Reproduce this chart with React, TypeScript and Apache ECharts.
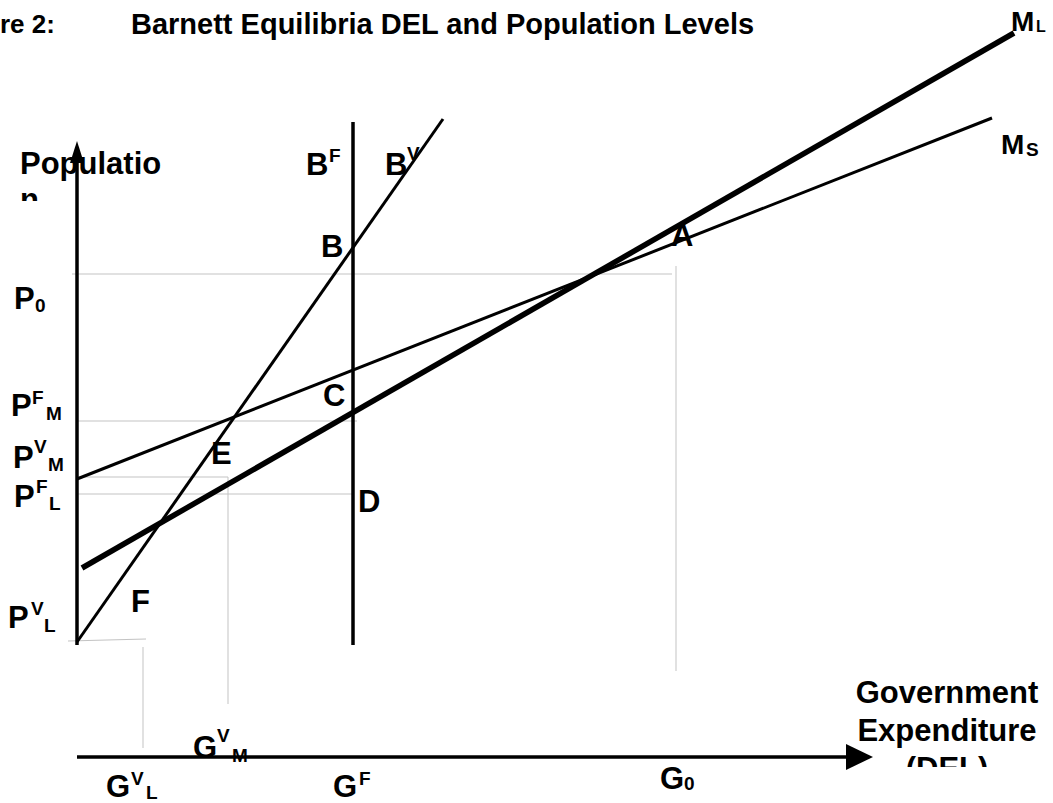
import React, { useEffect, useRef } from "react";
import * as echarts from "echarts";

// Diagram geometry in diagram units (G across, P down the page scale)
const popAxisLine = [[77, 645], [77, 160]];
const govAxisLine = [[77, 757], [848, 757]];
const bfLine = [[353, 122], [353, 645]];
const bvLine = [[77, 642], [443, 119]];
const msLine = [[77, 479], [992, 118]];
const mlLine = [[82, 568], [1014, 33]];

// Light reference (guide) lines
const p0Guide = [[72, 274], [672, 274]];
const g0Guide = [[676, 266], [676, 671]];
const pfmGuide = [[77, 421], [357, 421]];
const pvmGuide = [[77, 477], [228, 477], [228, 704]];
const pflGuide = [[77, 494], [353, 494]];
const pvlGuide = [[68, 641], [146, 639]];
const gvlGuide = [[143, 647], [143, 748]];

const FONT = '"Liberation Sans", Arial, Helvetica, sans-serif';
const BIG = `bold 31px ${FONT}`;
const MID = `bold 28px ${FONT}`;
const SMALL = `bold 19px ${FONT}`;
const TITLE = `bold 29px ${FONT}`;

type Lbl = { t: string; x: number; y: number; f: string; align?: string };

const labels: Lbl[] = [
  { t: "re 2:", x: 0, y: 24, f: `bold 26px ${FONT}` },
  { t: "Barnett Equilibria DEL and Population Levels", x: 131, y: 24, f: TITLE },
  { t: "Populatio", x: 20, y: 163, f: BIG },
  { t: "n", x: 20, y: 199, f: BIG },
  { t: "B", x: 306, y: 164, f: BIG },
  { t: "F", x: 329, y: 155, f: SMALL },
  { t: "B", x: 385, y: 164, f: BIG },
  { t: "V", x: 407, y: 153, f: SMALL },
  { t: "B", x: 321, y: 246, f: BIG },
  { t: "A", x: 671, y: 235, f: BIG },
  { t: "C", x: 323, y: 395, f: BIG },
  { t: "E", x: 211, y: 453, f: BIG },
  { t: "D", x: 358, y: 501, f: BIG },
  { t: "F", x: 131, y: 601, f: BIG },
  { t: "P", x: 14, y: 298, f: BIG },
  { t: "0", x: 35, y: 305, f: SMALL },
  { t: "P", x: 11, y: 405, f: BIG },
  { t: "F", x: 32, y: 397, f: SMALL },
  { t: "M", x: 46, y: 413, f: SMALL },
  { t: "P", x: 13, y: 457, f: BIG },
  { t: "V", x: 34, y: 446, f: SMALL },
  { t: "M", x: 48, y: 464, f: SMALL },
  { t: "P", x: 14, y: 496, f: BIG },
  { t: "F", x: 36, y: 486, f: SMALL },
  { t: "L", x: 49, y: 503, f: SMALL },
  { t: "P", x: 8, y: 617, f: BIG },
  { t: "V", x: 31, y: 608, f: SMALL },
  { t: "L", x: 44, y: 625, f: SMALL },
  { t: "G", x: 106, y: 786, f: BIG },
  { t: "V", x: 131, y: 778, f: SMALL },
  { t: "L", x: 146, y: 792, f: SMALL },
  { t: "G", x: 193, y: 747, f: BIG },
  { t: "V", x: 217, y: 735, f: SMALL },
  { t: "M", x: 232, y: 755, f: SMALL },
  { t: "G", x: 333, y: 786, f: BIG },
  { t: "F", x: 359, y: 778, f: SMALL },
  { t: "G", x: 660, y: 778, f: BIG },
  { t: "0", x: 684, y: 783, f: SMALL },
  { t: "M", x: 1011, y: 21, f: MID },
  { t: "L", x: 1036, y: 26, f: `bold 16px ${FONT}` },
  { t: "M", x: 1001, y: 144, f: MID },
  { t: "S", x: 1026, y: 149, f: SMALL },
  { t: "Government", x: 947, y: 692, f: BIG, align: "center" },
  { t: "Expenditure", x: 947, y: 730, f: BIG, align: "center" },
  { t: "(DEL)", x: 947, y: 768, f: BIG, align: "center" },
];

function lineSeries(data: number[][], width: number, color = "#000", z = 3) {
  return {
    type: "line",
    data,
    symbol: "none",
    showSymbol: false,
    silent: true,
    z,
    lineStyle: { color, width, cap: "butt" },
  };
}

export default function App() {
  const ref = useRef<HTMLDivElement>(null);
  useEffect(() => {
    if (!ref.current) return;
    const chart = echarts.init(ref.current, undefined, { renderer: "svg" });
    const GRAY = "#c3c3c3";
    const textEls = labels.map((l) => ({
      type: "text",
      x: l.x,
      y: l.y,
      z: 10,
      style: {
        text: l.t,
        font: l.f,
        fill: "#000",
        align: l.align || "left",
        textAlign: l.align || "left",
        verticalAlign: "middle",
        textVerticalAlign: "middle",
      },
    }));
    chart.setOption({
      animation: false,
      backgroundColor: "#fff",
      grid: { left: 0, right: 0, top: 0, bottom: 0 },
      xAxis: { type: "value", min: 0, max: 1053, show: false },
      yAxis: { type: "value", min: 0, max: 803, inverse: true, show: false },
      series: [
        lineSeries(p0Guide, 1, GRAY, 1),
        lineSeries(g0Guide, 1, GRAY, 1),
        lineSeries(pfmGuide, 1, GRAY, 1),
        lineSeries(pvmGuide, 1, GRAY, 1),
        lineSeries(pflGuide, 1, GRAY, 1),
        lineSeries(pvlGuide, 1, GRAY, 1),
        lineSeries(gvlGuide, 1, GRAY, 1),
        lineSeries(popAxisLine, 3.5),
        lineSeries(govAxisLine, 3.5),
        lineSeries(bfLine, 3.5),
        lineSeries(bvLine, 3),
        lineSeries(msLine, 3),
        lineSeries(mlLine, 5.5),
      ],
      graphic: [
        {
          type: "polygon",
          z: 5,
          shape: { points: [[77, 141], [70, 163], [84, 163]] },
          style: { fill: "#000" },
        },
        {
          type: "polygon",
          z: 5,
          shape: { points: [[873, 757], [846, 744], [846, 770]] },
          style: { fill: "#000" },
        },
        ...textEls,
        // clip the wrapped overflow lines, as in the original text boxes
        { type: "rect", z: 20, shape: { x: 10, y: 201, width: 50, height: 20 }, style: { fill: "#fff" } },
        { type: "rect", z: 20, shape: { x: 890, y: 767, width: 120, height: 30 }, style: { fill: "#fff" } },
      ],
    });
    return () => chart.dispose();
  }, []);
  return (
    <div
      ref={ref}
      style={{ position: "absolute", left: 0, top: 0, width: 1053, height: 803, background: "#fff" }}
    />
  );
}
